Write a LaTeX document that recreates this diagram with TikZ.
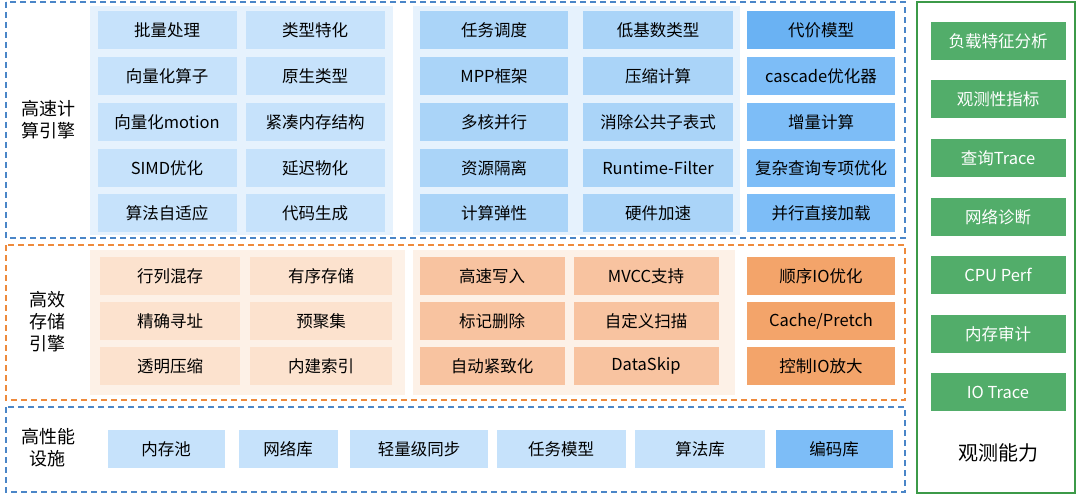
\documentclass[tikz,border=0pt]{standalone}
\usepackage{fontspec}
\setmainfont{Noto Sans CJK SC}
\definecolor{frameblue}{HTML}{4A86C8}
\definecolor{frameorange}{HTML}{EE8A3C}
\definecolor{framegreen}{HTML}{3C9A48}
\definecolor{panelblue}{HTML}{E6F2FD}
\definecolor{panelorange}{HTML}{FDF1E7}
\definecolor{blueA}{HTML}{C6E2FB}
\definecolor{blueB}{HTML}{AAD4F8}
\definecolor{blueC}{HTML}{7DBDF7}
\definecolor{blueD}{HTML}{6AB2F3}
\definecolor{orangeA}{HTML}{FCE2CE}
\definecolor{orangeB}{HTML}{F8C3A0}
\definecolor{orangeC}{HTML}{F3A46A}
\definecolor{greenbox}{HTML}{52AD6A}
\tikzset{
  cell/.style={minimum height=38pt, inner sep=0pt, font=\fontsize{16.5}{19}\selectfont},
  frame/.style={line width=1.2pt, dash pattern=on 6pt off 4pt},
  layer/.style={align=center, font=\fontsize{18}{22}\selectfont}
}
\begin{document}
\begin{tikzpicture}[x=1pt,y=-1pt]
\useasboundingbox (0,0) rectangle (1080,498);
% frames
\draw[frame, frameblue] (6,2) rectangle (905,238);
\draw[frame, frameorange] (6,245) rectangle (905,400);
\draw[frame, frameblue] (6,407) rectangle (905,492);
\draw[framegreen, line width=1.5pt] (917,2) rectangle (1075,493);
% panels
\fill[panelblue] (90,6) rectangle (393,235);
\fill[panelblue] (413,6) rectangle (740,235);
\fill[panelorange] (90,250) rectangle (405,395);
\fill[panelorange] (413,250) rectangle (735,395);
% layer labels
\node[layer] (compute) at (48,120) {高速计\\算引擎};
\node[layer] (storage) at (48,322) {高效\\存储\\引擎};
\node[layer] (infra) at (48,448) {高性能\\设施};
% compute engine
\node[cell, fill=blueA, minimum width=139pt] (c11) at (167,30) {批量处理};
\node[cell, fill=blueA, minimum width=139pt] (c12) at (167,76) {向量化算子};
\node[cell, fill=blueA, minimum width=139pt] (c13) at (167,122) {向量化motion};
\node[cell, fill=blueA, minimum width=139pt] (c14) at (167,168) {SIMD优化};
\node[cell, fill=blueA, minimum width=139pt] (c15) at (167,213) {算法自适应};
\node[cell, fill=blueA, minimum width=139pt] (c21) at (315,30) {类型特化};
\node[cell, fill=blueA, minimum width=139pt] (c22) at (315,76) {原生类型};
\node[cell, fill=blueA, minimum width=139pt] (c23) at (315,122) {紧凑内存结构};
\node[cell, fill=blueA, minimum width=139pt] (c24) at (315,168) {延迟物化};
\node[cell, fill=blueA, minimum width=139pt] (c25) at (315,213) {代码生成};
\node[cell, fill=blueB, minimum width=148pt] (c31) at (494,30) {任务调度};
\node[cell, fill=blueB, minimum width=148pt] (c32) at (494,76) {MPP框架};
\node[cell, fill=blueB, minimum width=148pt] (c33) at (494,122) {多核并行};
\node[cell, fill=blueB, minimum width=148pt] (c34) at (494,168) {资源隔离};
\node[cell, fill=blueB, minimum width=148pt] (c35) at (494,213) {计算弹性};
\node[cell, fill=blueB, minimum width=150pt] (c41) at (658,30) {低基数类型};
\node[cell, fill=blueB, minimum width=150pt] (c42) at (658,76) {压缩计算};
\node[cell, fill=blueB, minimum width=150pt] (c43) at (658,122) {消除公共子表式};
\node[cell, fill=blueB, minimum width=150pt] (c44) at (658,168) {Runtime-Filter};
\node[cell, fill=blueB, minimum width=150pt] (c45) at (658,213) {硬件加速};
\node[cell, fill=blueD, minimum width=148pt] (c51) at (821,30) {代价模型};
\node[cell, fill=blueC, minimum width=148pt] (c52) at (821,76) {cascade优化器};
\node[cell, fill=blueC, minimum width=148pt] (c53) at (821,122) {增量计算};
\node[cell, fill=blueC, minimum width=148pt] (c54) at (821,168) {复杂查询专项优化};
\node[cell, fill=blueC, minimum width=148pt] (c55) at (821,213) {并行直接加载};
% storage engine
\node[cell, fill=orangeA, minimum width=140pt] (s11) at (170,276) {行列混存};
\node[cell, fill=orangeA, minimum width=140pt] (s12) at (170,321) {精确寻址};
\node[cell, fill=orangeA, minimum width=140pt] (s13) at (170,366) {透明压缩};
\node[cell, fill=orangeA, minimum width=142pt] (s21) at (321,276) {有序存储};
\node[cell, fill=orangeA, minimum width=142pt] (s22) at (321,321) {预聚集};
\node[cell, fill=orangeA, minimum width=142pt] (s23) at (321,366) {内建索引};
\node[cell, fill=orangeB, minimum width=145pt] (s31) at (492,276) {高速写入};
\node[cell, fill=orangeB, minimum width=145pt] (s32) at (492,321) {标记删除};
\node[cell, fill=orangeB, minimum width=145pt] (s33) at (492,366) {自动紧致化};
\node[cell, fill=orangeB, minimum width=145pt] (s41) at (646,276) {MVCC支持};
\node[cell, fill=orangeB, minimum width=145pt] (s42) at (646,321) {自定义扫描};
\node[cell, fill=orangeB, minimum width=145pt] (s43) at (646,366) {DataSkip};
\node[cell, fill=orangeC, minimum width=148pt] (s51) at (821,276) {顺序IO优化};
\node[cell, fill=orangeC, minimum width=148pt] (s52) at (821,321) {Cache/Pretch};
\node[cell, fill=orangeC, minimum width=148pt] (s53) at (821,366) {控制IO放大};
% infrastructure
\node[cell, fill=blueA, minimum width=117pt] (i1) at (166,449) {内存池};
\node[cell, fill=blueA, minimum width=99pt] (i2) at (288,449) {网络库};
\node[cell, fill=blueA, minimum width=138pt] (i3) at (419,449) {轻量级同步};
\node[cell, fill=blueA, minimum width=129pt] (i4) at (561,449) {任务模型};
\node[cell, fill=blueA, minimum width=130pt] (i5) at (700,449) {算法库};
\node[cell, fill=blueC, minimum width=117pt] (i6) at (834,449) {编码库};
% observability
\node[cell, fill=greenbox, text=white, minimum width=135pt] (o1) at (998,41) {负载特征分析};
\node[cell, fill=greenbox, text=white, minimum width=135pt] (o2) at (998,99) {观测性指标};
\node[cell, fill=greenbox, text=white, minimum width=135pt] (o3) at (998,158) {查询Trace};
\node[cell, fill=greenbox, text=white, minimum width=135pt] (o4) at (998,217) {网络诊断};
\node[cell, fill=greenbox, text=white, minimum width=135pt] (o5) at (998,275) {CPU Perf};
\node[cell, fill=greenbox, text=white, minimum width=135pt] (o6) at (998,334) {内存审计};
\node[cell, fill=greenbox, text=white, minimum width=135pt] (o7) at (998,392) {IO Trace};
\node[layer, font=\fontsize{20}{24}\selectfont] (observe) at (998,453) {观测能力};
\end{tikzpicture}
\end{document}
